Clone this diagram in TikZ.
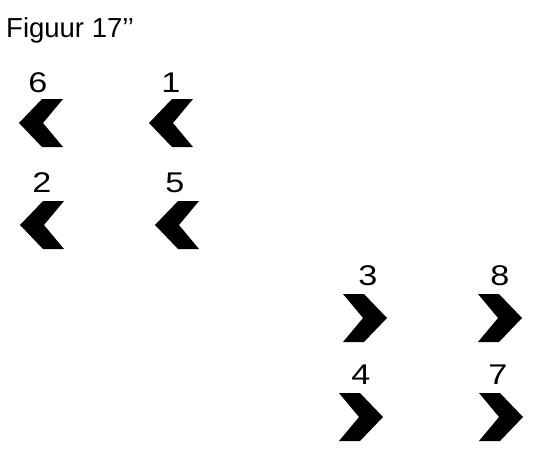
\documentclass[tikz,border=0pt]{standalone}
\usepackage{fontspec}
\setmainfont{Liberation Sans}
\newfontfamily\numfont[FakeStretch=1.2]{Liberation Sans}
\usepackage{tikz}

\tikzset{
  chevleft/.pic={\fill (0,0) -- (23,-24) -- (44,-24) -- (24,0) -- (44,24) -- (23,24) -- cycle;},
  chevright/.pic={\fill (0,0) -- (-23,-24) -- (-44,-24) -- (-24,0) -- (-44,24) -- (-23,24) -- cycle;},
  num/.style={font=\numfont\fontsize{28.5}{32}\selectfont, inner sep=0pt}
}

\begin{document}
\begin{tikzpicture}[x=1pt, y=-1pt]
            \useasboundingbox (0,0) rectangle (541,474);
            % Title
            \node[anchor=base west, inner sep=0pt, font=\fontsize{27.5}{32}\selectfont] (title) at (6,37) {Figuur 17’’};

            % Chevrons
            \pic (c6) at (19,123) {chevleft};
            \pic (c1) at (149,123) {chevleft};
            \pic (c2) at (20,225) {chevleft};
            \pic (c5) at (155,225) {chevleft};
            \pic (c3) at (387,318) {chevright};
            \pic (c8) at (522,318) {chevright};
            \pic (c4) at (383,417) {chevright};
            \pic (c7) at (523,417) {chevright};

            % Numbers
            \node[num] (n6) at (38,83) {6};
            \node[num] (n1) at (171,83) {1};
            \node[num] (n2) at (42,183) {2};
            \node[num] (n5) at (175,183) {5};
            \node[num] (n3) at (368,276) {3};
            \node[num] (n8) at (500,276) {8};
            \node[num] (n4) at (361,375) {4};
            \node[num] (n7) at (498,375) {7};
        \end{tikzpicture}
\end{document}
